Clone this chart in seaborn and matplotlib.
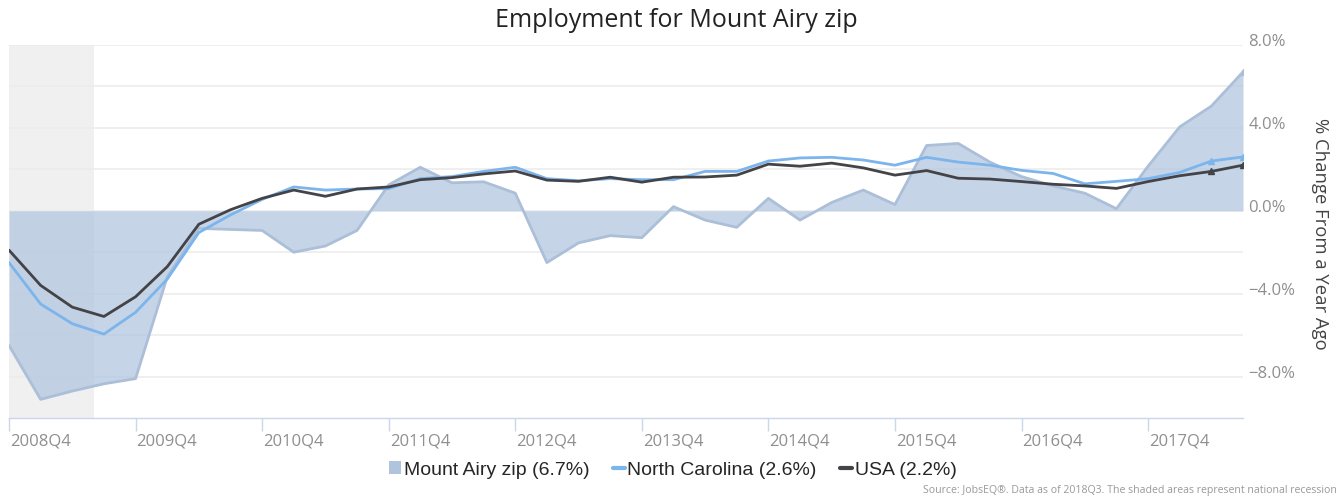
import numpy as np
import pandas as pd
import matplotlib
matplotlib.use("Agg")
import matplotlib.pyplot as plt
import matplotlib.transforms as mtransforms
from matplotlib.patches import Patch
from matplotlib.lines import Line2D
import seaborn as sns

# quarterly data, 2008Q4 .. 2018Q3 (% change from a year ago)
quarters = [f"{y}Q{q}" for y in range(2008, 2019) for q in range(1, 5)][3:43]

mount_airy = [-6.5, -9.1, -8.7, -8.35, -8.1, -3.2, -0.85, -0.9, -0.95, -2.0,
              -1.7, -0.95, 1.25, 2.1, 1.35, 1.4, 0.85, -2.5, -1.55, -1.2,
              -1.3, 0.2, -0.45, -0.8, 0.6, -0.45, 0.4, 1.0, 0.3, 3.15,
              3.25, 2.35, 1.65, 1.2, 0.85, 0.1, 2.15, 4.05, 5.05, 6.7]

north_carolina = [-2.5, -4.5, -5.45, -5.95, -4.9, -3.3, -1.05, -0.2, 0.55, 1.15,
                  1.0, 1.05, 1.07, 1.55, 1.65, 1.9, 2.1, 1.55, 1.45, 1.55,
                  1.5, 1.5, 1.9, 1.9, 2.4, 2.55, 2.58, 2.45, 2.2, 2.58,
                  2.35, 2.2, 1.95, 1.8, 1.3, 1.42, 1.55, 1.85, 2.4, 2.6]

usa = [-1.9, -3.6, -4.65, -5.1, -4.15, -2.7, -0.65, 0.05, 0.6, 1.0,
       0.7, 1.05, 1.15, 1.5, 1.6, 1.78, 1.92, 1.48, 1.42, 1.62,
       1.38, 1.62, 1.63, 1.72, 2.25, 2.15, 2.3, 2.07, 1.72, 1.94,
       1.57, 1.53, 1.41, 1.28, 1.2, 1.08, 1.41, 1.69, 1.9, 2.2]

tick_labels = [f"{y}Q4" for y in range(2008, 2018)]
recession_end = 2.69  # end of shaded national recession, in quarters from 2008Q4

df = pd.DataFrame({
    "idx": np.arange(len(quarters)),
    "quarter": quarters,
    "Mount Airy zip": mount_airy,
    "North Carolina": north_carolina,
    "USA": usa,
})

AREA = "#b0c4de"
NC = "#7cb5ec"
US = "#434348"
GRID = "#ececec"
AXIS = "#ccd6eb"

sns.set_theme(style="white")
plt.rcParams["font.family"] = ["Open Sans", "DejaVu Sans"]

fig = plt.figure(figsize=(13.41, 4.98), dpi=100)
ax = fig.add_axes([9 / 1341, 1 - 418 / 498, (1243 - 9) / 1341, (418 - 45) / 498])

ax.axvspan(df["idx"].iloc[0], recession_end, color="#f0f0f0", lw=0, zorder=0)
ax.fill_between(df["idx"], df["Mount Airy zip"], 0, color=AREA, alpha=0.72, lw=0, zorder=2)
sns.lineplot(data=df, x="idx", y="Mount Airy zip", ax=ax, color="#abbfd9", lw=2, zorder=3)
sns.lineplot(data=df, x="idx", y="North Carolina", ax=ax, color=NC, lw=2, zorder=4)
sns.lineplot(data=df, x="idx", y="USA", ax=ax, color=US, lw=2, zorder=5)

# small end markers on the last quarters
tail = df.tail(2)
ax.plot(tail["idx"], tail["North Carolina"], ls="none", marker="^", ms=4, color=NC, zorder=6)
ax.plot(tail["idx"], tail["USA"], ls="none", marker="^", ms=4, color=US, zorder=6)
ax.plot(tail["idx"].iloc[-1:], tail["Mount Airy zip"].iloc[-1:], ls="none", marker="^", ms=4,
        color="#abbfd9", zorder=6)

ax.set_xlim(0, len(quarters) - 1)
ax.set_ylim(-10, 8)

# y axis on the right
ax.yaxis.tick_right()
ax.set_yticks([-8, -4, 0, 4, 8])
ax.set_yticks(np.arange(-8, 9, 2), minor=True)
ax.set_yticklabels([f"{v:.1f}%".replace("-", "\u2212") for v in [-8, -4, 0, 4, 8]])
ax.grid(axis="y", which="both", color=GRID, lw=1.2)
ax.grid(axis="x", visible=False)
ax.set_axisbelow(True)
ax.tick_params(axis="y", which="both", length=0, pad=4, labelsize=12, labelcolor="#8f8f8f")
off = mtransforms.ScaledTranslation(0, 5 / 100, fig.dpi_scale_trans)
for lab in ax.get_yticklabels():
    lab.set_transform(lab.get_transform() + off)

ax.set_xticks(df["idx"].iloc[::4])
ax.set_xticklabels(tick_labels, ha="left")
ax.tick_params(axis="x", length=9, width=1, color=AXIS, pad=2, labelsize=12, labelcolor="#8f8f8f",
               direction="out", bottom=True)
xoff = mtransforms.ScaledTranslation(1 / 100, 0, fig.dpi_scale_trans)
for lab in ax.get_xticklabels():
    lab.set_transform(lab.get_transform() + xoff)

for s in ["top", "left", "right"]:
    ax.spines[s].set_visible(False)
ax.spines["bottom"].set_color(AXIS)
ax.spines["bottom"].set_linewidth(1)

ax.set_xlabel("")
ax.set_ylabel("")

fig.text(1320 / 1341, 1 - 234 / 498, "% Change From a Year Ago", rotation=270,
         ha="center", va="center", fontsize=13.3, color="#444444")
fig.text(676 / 1341, 1 - 20 / 498, "Employment for Mount Airy zip", ha="center", va="center",
         fontsize=18, color="#222222")

handles = [
    Patch(facecolor=AREA, edgecolor="none"),
    Line2D([0], [0], color=NC, lw=3),
    Line2D([0], [0], color=US, lw=3),
]
fig.legend(handles, ["Mount Airy zip (6.7%)", "North Carolina (2.6%)", "USA (2.2%)"],
           loc="center", bbox_to_anchor=(673 / 1341, 1 - 470 / 498), ncol=3, frameon=False,
           prop={"family": "Liberation Sans", "size": 14}, handlelength=0.6, handletextpad=0.15,
           columnspacing=1.2, handleheight=0.6)

fig.text(1337 / 1341, 1 - 490 / 498,
         "Source: JobsEQ\u00ae. Data as of 2018Q3. The shaded areas represent national recession",
         ha="right", va="center", fontsize=7.6, color="#999999")

fig.savefig("out.png", dpi=100)
